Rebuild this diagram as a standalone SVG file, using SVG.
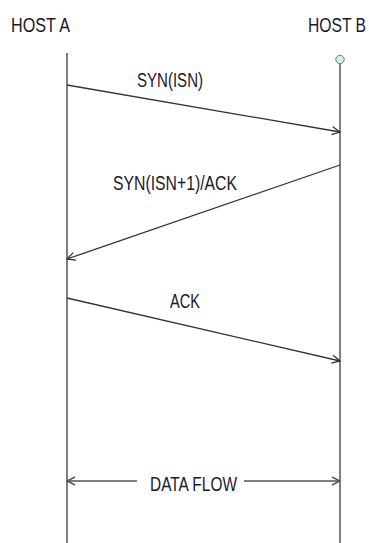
<svg xmlns="http://www.w3.org/2000/svg" width="369" height="543" viewBox="0 0 369 543">
<style>
text{font-family:"Liberation Sans",Arial,sans-serif;font-size:20px;fill:#1a1a2e}
.life{stroke:#555;stroke-width:1.5;fill:none}
.msg{stroke:#333;stroke-width:1.3;fill:none;marker-end:url(#ah)}
.flow{stroke:#555;stroke-width:1.6;fill:none}
</style>
<defs>
<marker id="ah" viewBox="0 0 10 10" refX="9" refY="5" markerWidth="10" markerHeight="10" markerUnits="userSpaceOnUse" orient="auto">
<path d="M1,1 L9,5 L1,9" fill="none" stroke="#333" stroke-width="1.3"/>
</marker>
<marker id="ah2" viewBox="0 0 10 10" refX="9" refY="5" markerWidth="10" markerHeight="10" markerUnits="userSpaceOnUse" orient="auto-start-reverse">
<path d="M1,1 L9,5 L1,9" fill="none" stroke="#555" stroke-width="1.5"/>
</marker>
</defs>
<g id="hostA">
<text transform="translate(11,32) scale(0.8,1)" x="0" y="0" textLength="73.75" lengthAdjust="spacingAndGlyphs">HOST A</text>
<line class="life" x1="67" y1="53" x2="67" y2="543"/>
</g>
<g id="hostB">
<text transform="translate(308,32) scale(0.8,1)" x="0" y="0" textLength="72.5" lengthAdjust="spacingAndGlyphs">HOST B</text>
<line class="life" x1="340" y1="64" x2="340" y2="543"/>
<circle cx="340" cy="59.5" r="4.2" fill="#d6eef0" stroke="#777" stroke-width="1"/>
</g>
<g id="connectors">
<line class="msg" x1="67" y1="85" x2="340" y2="132"/>
<line class="msg" x1="340" y1="165" x2="67" y2="259"/>
<line class="msg" x1="67" y1="298" x2="340" y2="361"/>
<line class="flow" x1="67" y1="481" x2="137" y2="481" marker-start="url(#ah2)"/>
<line class="flow" x1="244" y1="481" x2="340" y2="481" marker-end="url(#ah2)"/>
</g>
<g id="labels">
<text x="137" y="87" textLength="66" lengthAdjust="spacingAndGlyphs">SYN(ISN)</text>
<text x="113" y="190" textLength="124" lengthAdjust="spacingAndGlyphs">SYN(ISN+1)/ACK</text>
<text x="170" y="308" textLength="30" lengthAdjust="spacingAndGlyphs">ACK</text>
<text x="150" y="491" textLength="87" lengthAdjust="spacingAndGlyphs">DATA FLOW</text>
</g>
</svg>
